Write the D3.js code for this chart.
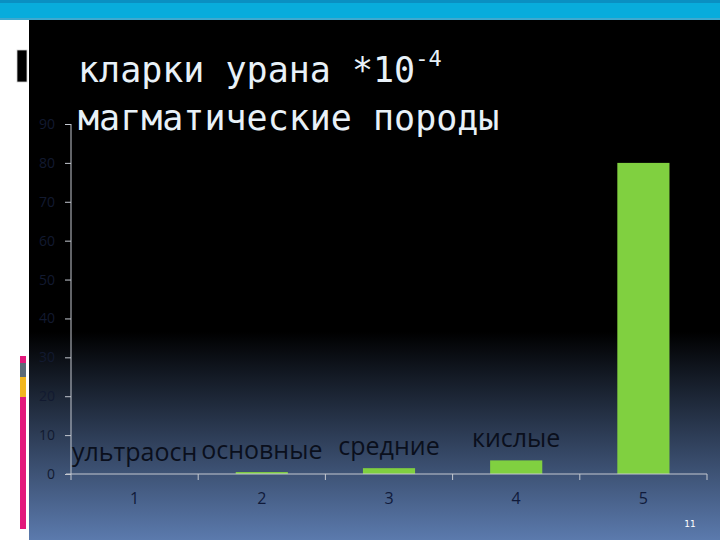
<!DOCTYPE html>
<html>
<head>
<meta charset="utf-8">
<script src="https://cdn.jsdelivr.net/npm/d3@7"></script>
<style>
	html, body { margin: 0; padding: 0; background: #ffffff; }
	svg { display: block; }
</style>
</head>
<body>
<div id="chart"></div>
<script>
// chart data
const categories   = ["1", "2", "3", "4", "5"];
const clark_values = [0, 0.5, 1.5, 3.5, 80];
const rock_labels  = ["ультраосн", "основные", "средние", "кислые", ""];
const y_ticks      = [0, 10, 20, 30, 40, 50, 60, 70, 80, 90];
const title_lines  = ["кларки урана *10", "магматические породы"];
const title_power  = "-4";
const page_number  = "11";
const side_stripes = [
	{color: "#e3197c", from: 356, to: 363},
	{color: "#5c6b78", from: 363, to: 377},
	{color: "#f2b71f", from: 377, to: 397},
	{color: "#e3197c", from: 397, to: 529}
];

class ClarkBarPlot {
	#svg;
	#g_axis;
	#g_bars;
	#g_labels;
	#x;
	#y;
	constructor(svg, left, right, top, bottom){
		this.#svg = svg;
		this.#g_bars   = svg.append("g");
		this.#g_axis   = svg.append("g");
		this.#g_labels = svg.append("g");
		this.#x = d3.scaleBand().domain(categories).range([left, right]).padding(0);
		this.#y = d3.scaleLinear().domain([0, 90]).range([bottom, top]);
	}

	get x(){ return this.#x; }
	get y(){ return this.#y; }

	update(){
		this.updateAxis();
		this.updateBars();
		this.updateLabels();
	}

	updateAxis(){
		let x = this.#x, y = this.#y;
		let axis_color = "#c4c8d0";
		let left = x.range()[0], right = x.range()[1];

		// y axis, labels are dark so they vanish on the black part
		let y_axis = d3.axisLeft(y).tickValues(y_ticks).tickSize(6).tickPadding(10);
		let gy = this.#g_axis.append("g")
			.attr("transform", `translate(${left},0)`)
			.call(y_axis);
		gy.select(".domain").remove();
		gy.append("line")
			.attr("x1", 0).attr("x2", 0)
			.attr("y1", y(90)).attr("y2", y(0))
			.attr("stroke", axis_color);
		gy.selectAll(".tick line").attr("stroke", axis_color);
		gy.selectAll(".tick text")
			.attr("fill", "#121a30")
			.style("font-family", "'Open Sans', sans-serif")
			.style("font-size", "14px");

		// x axis with ticks at band edges
		let gx = this.#g_axis.append("g");
		gx.append("line")
			.attr("x1", left - 5).attr("x2", right)
			.attr("y1", y(0)).attr("y2", y(0))
			.attr("stroke", axis_color);
		let edges = categories.map(c => x(c)).concat([right]);
		gx.selectAll(".x_tick")
			.data(edges)
			.join("line")
			.attr("class", "x_tick")
			.attr("x1", d => d).attr("x2", d => d)
			.attr("y1", y(0)).attr("y2", y(0) + 6)
			.attr("stroke", axis_color);
		gx.selectAll(".x_label")
			.data(categories)
			.join("text")
			.attr("class", "x_label")
			.attr("x", d => x(d) + x.bandwidth() / 2)
			.attr("y", y(0) + 30)
			.attr("text-anchor", "middle")
			.attr("fill", "#101a3a")
			.style("font-family", "'Open Sans', sans-serif")
			.style("font-size", "16px")
			.text(d => d);
	}

	updateBars(){
		let x = this.#x, y = this.#y;
		let bar_w = x.bandwidth() * 0.41;
		this.#g_bars
			.selectAll(".clark_bar")
			.data(categories.map((c, i) => ({cat: c, value: clark_values[i]})))
			.join("rect")
			.attr("class", "clark_bar")
			.attr("x", d => x(d.cat) + (x.bandwidth() - bar_w) / 2)
			.attr("width", bar_w)
			.attr("y", d => y(d.value))
			.attr("height", d => y(0) - y(d.value))
			.attr("fill", "#80d040");
	}

	updateLabels(){
		let x = this.#x, y = this.#y;
		this.#g_labels
			.selectAll(".rock_label")
			.data(categories.map((c, i) => ({cat: c, value: clark_values[i], text: rock_labels[i]})))
			.join("text")
			.attr("class", "rock_label")
			.attr("x", d => x(d.cat) + x.bandwidth() / 2)
			.attr("y", d => y(d.value) - 13)
			.attr("text-anchor", "middle")
			.attr("fill", "#0a0f1c")
			.style("font-family", "'Open Sans', sans-serif")
			.style("font-size", "25px")
			.text(d => d.text);
	}
}

const width = 720, height = 540;
const svg = d3.select("#chart").append("svg")
	.attr("width", width)
	.attr("height", height);

// slide background
let defs = svg.append("defs");
let grad = defs.append("linearGradient")
	.attr("id", "bg_grad")
	.attr("x1", 0).attr("y1", 0).attr("x2", 0).attr("y2", 1);
grad.append("stop").attr("offset", "0").attr("stop-color", "#000000");
grad.append("stop").attr("offset", "0.6").attr("stop-color", "#000000");
grad.append("stop").attr("offset", "1").attr("stop-color", "#5b7aad");

svg.append("rect").attr("width", width).attr("height", height).attr("fill", "#ffffff");
svg.append("rect")
	.attr("x", 29).attr("y", 20)
	.attr("width", width - 29).attr("height", height - 20)
	.attr("fill", "url(#bg_grad)");
svg.append("rect").attr("x", 0).attr("y", 0).attr("width", width).attr("height", 20).attr("fill", "#08acdc");
svg.append("rect").attr("x", 0).attr("y", 0).attr("width", width).attr("height", 3).attr("fill", "#0a8fc2");
svg.append("rect").attr("x", 0).attr("y", 18).attr("width", width).attr("height", 2).attr("fill", "#3fa9cf");

svg.append("rect")
	.attr("x", 17).attr("y", 50)
	.attr("width", 10).attr("height", 32)
	.attr("fill", "#000000")
	.attr("stroke", "#d0d0d0").attr("stroke-width", 0.8);

svg.append("g")
	.selectAll("rect")
	.data(side_stripes)
	.join("rect")
	.attr("x", 20).attr("width", 6)
	.attr("y", d => d.from)
	.attr("height", d => d.to - d.from)
	.attr("fill", d => d.color);

const plot = new ClarkBarPlot(svg, 71, 707, 124, 474);
plot.update();

// title
let title = svg.append("text")
	.attr("fill", "#e8f1f8")
	.style("font-family", "'DejaVu Sans Mono', monospace")
	.style("font-size", "35px");
title.append("tspan").attr("x", 78).attr("y", 82).text(title_lines[0]);
title.append("tspan")
	.attr("dy", -16)
	.style("font-size", "22px")
	.text(title_power);
title.append("tspan").attr("x", 78).attr("y", 130).text(title_lines[1]);

svg.append("text")
	.attr("x", 690).attr("y", 527)
	.attr("text-anchor", "middle")
	.attr("fill", "#ffffff")
	.style("font-family", "'DejaVu Sans', sans-serif")
	.style("font-size", "9px")
	.text(page_number);
</script>
</body>
</html>
